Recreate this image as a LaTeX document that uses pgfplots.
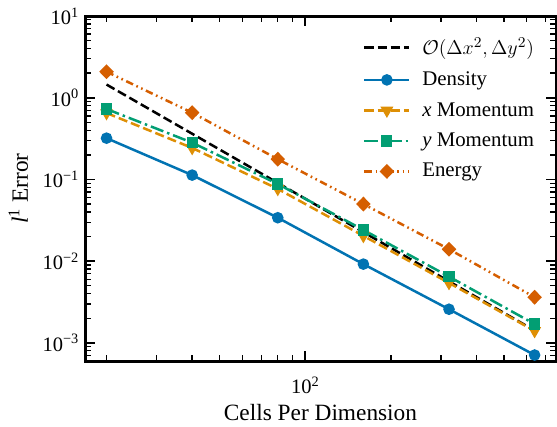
\documentclass[border=0pt]{standalone}
\usepackage{fontspec}
\setmainfont{Liberation Serif}
\usepackage{pgfplots}
\pgfplotsset{compat=1.18}
\usetikzlibrary{calc}
\definecolor{cbblue}{HTML}{0173B2}
\definecolor{cborange}{HTML}{DE8F05}
\definecolor{cbgreen}{HTML}{029E73}
\definecolor{cbred}{HTML}{D55E00}
\begin{document}
\begin{tikzpicture}
\begin{axis}[name=ax,
  xmode=log, ymode=log, scale only axis, width=282.6pt, height=207pt,
  xmin=16.8, xmax=761, ymin=6e-4, ymax=10,
  xtick={100}, xticklabels={10\textsuperscript{2}},
  minor xtick={20,30,40,50,60,70,80,90,200,300,400,500,600,700},
  ytick={1e-3,1e-2,1e-1,1,10},
  yticklabels={10\textsuperscript{−3},10\textsuperscript{−2},10\textsuperscript{−1},10\textsuperscript{0},10\textsuperscript{1}},
  minor ytick={6e-4,7e-4,8e-4,9e-4,2e-3,3e-3,4e-3,5e-3,6e-3,7e-3,8e-3,9e-3,2e-2,3e-2,4e-2,5e-2,6e-2,7e-2,8e-2,9e-2,0.2,0.3,0.4,0.5,0.6,0.7,0.8,0.9,2,3,4,5,6,7,8,9},
  tick align=inside, xtick pos=both, ytick pos=both,
  major tick length=6.3pt, minor tick length=3.6pt,
  every major tick/.append style={line width=1.1pt, black},
  every minor tick/.append style={line width=0.8pt, black},
  axis line style={line width=1.8pt},
  tick label style={font=\fontsize{12.3}{14}\selectfont},
  xticklabel style={yshift=-6pt},
  label style={font=\fontsize{14}{16}\selectfont},
  xlabel={Cells Per Dimension},
  ylabel={\textit{l}\textsuperscript{1} Error},
  xlabel style={at={(axis description cs:0.5,0)}, anchor=center, yshift=-31pt},
  ylabel style={at={(axis description cs:0,0.5)}, anchor=center, yshift=40pt},
  legend style={at={(axis description cs:1,1)}, anchor=north east, xshift=-8pt, yshift=-9pt,
    draw=none, fill=none, font=\fontsize{12.5}{15}\selectfont, row sep=4.6pt,
    /tikz/every odd column/.append style={column sep=5pt}},
  legend cell align=left,
  legend image code/.code={\draw[mark repeat=2,mark phase=2] plot coordinates {(0pt,0pt) (13.5pt,0pt) (27pt,0pt)};},
]
\addplot[black, line width=1.5pt, dash pattern=on 5.5pt off 2.4pt] coordinates {
(20,1.45) (40,0.3625) (80,0.0906) (160,0.02266) (320,0.005664) (640,0.001416)};
\addlegendentry{$\mathcal{O}(\Delta x^2, \Delta y^2)$}
\addplot[cbblue, line width=1.5pt, mark=*, mark size=2.7pt, mark options={solid}] coordinates {
(20,0.32) (40,0.113) (80,0.034) (160,0.0092) (320,0.00258) (640,0.00071)};
\addlegendentry{Density}
\addplot[cborange, line width=1.5pt, dash pattern=on 5.5pt off 2.4pt, mark=triangle*, mark size=3pt, mark options={solid, rotate=180}] coordinates {
(20,0.65) (40,0.243) (80,0.0766) (160,0.0204) (320,0.00542) (640,0.0014)};
\addlegendentry{\textit{x} Momentum}
\addplot[cbgreen, line width=1.5pt, dash pattern=on 8pt off 2.4pt on 1.5pt off 2.4pt, mark=square*, mark size=2.6pt, mark options={solid}] coordinates {
(20,0.728) (40,0.282) (80,0.088) (160,0.0241) (320,0.00647) (640,0.0017)};
\addlegendentry{\textit{y} Momentum}
\addplot[cbred, line width=1.5pt, dash pattern=on 4.5pt off 2.2pt on 1pt off 2.2pt on 1pt off 2.2pt, mark=diamond*, mark size=3.4pt, mark options={solid, xscale=1.3}] coordinates {
(20,2.08) (40,0.656) (80,0.177) (160,0.050) (320,0.0140) (640,0.00362)};
\addlegendentry{Energy}
\end{axis}
\pgfresetboundingbox
\path[use as bounding box] ($(ax.south west)+(-51pt,-39pt)$) rectangle ($(ax.north east)+(0.6pt,9.6pt)$);
\end{tikzpicture}
\end{document}
